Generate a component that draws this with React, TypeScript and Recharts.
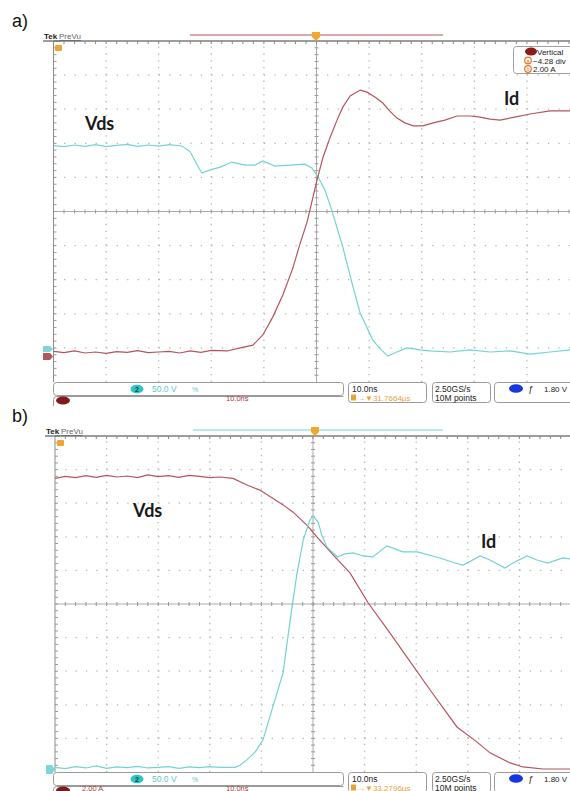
import React from 'react';
import { LineChart, Line, XAxis, YAxis, ReferenceLine } from 'recharts';

// ---- Panel a) : turn-on, Vds (cyan) and Id (red), values in graticule divisions ----
const aVdsT = [0,0.2,0.4,0.6,0.8,1.0,1.2,1.4,1.6,1.8,2.0,2.2,2.44,2.6,2.72,2.82,2.98,3.17,3.39,3.64,3.83,3.98,4.21,4.5,4.78,4.91,5.03,5.16,5.29,5.5,5.67,5.83,6.07,6.23,6.36,6.53,6.72,6.97,7.16,7.54,7.92,8.3,8.68,9.06,9.44,9.82,10];
const aVdsV = [1.93,1.90,1.95,1.91,1.96,1.90,1.94,1.97,1.91,1.95,1.92,1.96,1.92,1.75,1.40,1.13,1.22,1.30,1.45,1.36,1.36,1.48,1.33,1.36,1.39,1.28,1.01,0.63,0.04,-1.04,-2.07,-2.98,-3.77,-4.06,-4.24,-4.12,-4.00,-4.06,-4.09,-4.12,-4.06,-4.12,-4.09,-4.18,-4.12,-4.06,-4.06];

const aIdT = [0,0.2,0.4,0.6,0.8,1.0,1.2,1.4,1.6,1.8,2.0,2.2,2.4,2.6,2.8,3.0,3.3,3.55,3.79,3.98,4.17,4.36,4.55,4.68,4.82,5.01,5.12,5.26,5.39,5.5,5.64,5.83,5.96,6.11,6.26,6.39,6.53,6.68,6.84,7.02,7.22,7.44,7.67,7.92,8.11,8.3,8.49,8.77,9.06,9.44,9.82,10];
const aIdV = [-4.10,-4.14,-4.09,-4.15,-4.12,-4.16,-4.11,-4.13,-4.08,-4.14,-4.12,-4.10,-4.15,-4.09,-4.13,-4.07,-4.09,-4.00,-3.92,-3.62,-3.09,-2.45,-1.66,-0.98,-0.31,0.92,1.57,2.18,2.68,3.06,3.39,3.56,3.50,3.36,3.18,2.95,2.74,2.60,2.51,2.51,2.60,2.68,2.80,2.80,2.77,2.71,2.68,2.77,2.86,2.95,2.95,2.95];

// ---- Panel b) : turn-off, Vds (red) and Id (cyan) ----
const bVdsT = [0,0.2,0.4,0.6,0.8,1.0,1.2,1.4,1.6,1.8,2.0,2.2,2.4,2.6,2.8,3.0,3.2,3.45,3.72,3.97,4.22,4.42,4.61,4.88,5.08,5.39,5.72,6.07,6.49,6.82,7.27,7.79,8.18,8.43,8.82,9.07,9.46,9.92,10];
const bVdsV = [3.74,3.80,3.76,3.82,3.77,3.83,3.78,3.81,3.76,3.84,3.79,3.82,3.77,3.83,3.80,3.76,3.78,3.74,3.54,3.39,3.15,2.95,2.74,2.35,1.99,1.46,0.92,0.03,-0.86,-1.58,-2.56,-3.66,-4.11,-4.43,-4.73,-4.85,-4.91,-4.91,-4.91];

const bIdT = [0,0.2,0.4,0.6,0.8,1.0,1.2,1.4,1.6,1.8,2.0,2.2,2.4,2.6,2.8,3.0,3.2,3.49,3.59,3.72,3.88,4.03,4.22,4.42,4.55,4.69,4.81,4.94,5.0,5.1,5.17,5.27,5.47,5.62,5.78,5.97,6.16,6.43,6.59,6.74,7.02,7.46,7.75,7.91,8.24,8.43,8.72,8.91,9.15,9.34,9.55,9.84,10];
const bIdV = [-4.86,-4.90,-4.84,-4.88,-4.82,-4.89,-4.85,-4.87,-4.83,-4.88,-4.86,-4.84,-4.89,-4.85,-4.87,-4.84,-4.86,-4.86,-4.79,-4.64,-4.40,-4.05,-3.07,-2.05,-0.57,0.92,1.90,2.50,2.62,2.44,2.05,1.70,1.40,1.49,1.52,1.43,1.40,1.73,1.64,1.55,1.55,1.37,1.22,1.16,1.43,1.31,1.07,1.25,1.43,1.31,1.22,1.37,1.34];

// graticule
const majorX = [1,2,3,4,6,7,8,9];
const majorY = [-4,-3,-2,-1,1,2,3,4];
const minorX = Array.from({ length: 49 }, (_, i) => Math.round((i + 1) * 2) / 10);
const minorY = Array.from({ length: 49 }, (_, i) => Math.round((i + 1) * 2 - 50) / 10);

const CYAN = '#74d3d1';
const RED = '#b3565c';
const FONT = "'Liberation Sans', Arial, sans-serif";

const zip = (t: number[], v: number[]) => t.map((x, i) => ({ t: x, v: v[i] }));

type Series = { key: string; data: { t: number; v: number }[]; color: string };

function Scope({ series, margin, divX, divY }: { series: Series[]; margin: any; divX: number; divY: number }) {
  const hDash = `1.3 ${(divX * 0.2 - 1.3).toFixed(2)}`;
  const vDash = `1.3 ${(divY * 0.2 - 1.3).toFixed(2)}`;
  const tx = 2 / divX; // 2px in x-divisions
  const ty = 2 / divY;
  return (
    <LineChart width={600} height={400} margin={margin}>
      <XAxis type="number" dataKey="t" domain={[0, 10]} hide allowDataOverflow />
      <YAxis type="number" dataKey="v" domain={[-5, 5]} hide allowDataOverflow />
      {majorY.map((y) => (
        <ReferenceLine key={'gy' + y} y={y} stroke="#b5b5b5" strokeWidth={1.3} strokeDasharray={hDash} />
      ))}
      {majorX.map((x) => (
        <ReferenceLine key={'gx' + x} x={x} stroke="#b5b5b5" strokeWidth={1.3} strokeDasharray={vDash} />
      ))}
      <ReferenceLine y={0} stroke="#ababab" />
      <ReferenceLine x={5} stroke="#ababab" />
      <ReferenceLine x={0} stroke="#8c8c8c" />
      <ReferenceLine y={5} stroke="#7c7c7c" strokeWidth={1.5} />
      {minorX.map((m) => (
        <ReferenceLine key={'cx' + m} segment={[{ x: m, y: -ty }, { x: m, y: ty }]} stroke="#999" />
      ))}
      {minorY.map((m) => (
        <ReferenceLine key={'cy' + m} segment={[{ x: 5 - tx, y: m }, { x: 5 + tx, y: m }]} stroke="#999" />
      ))}
      {minorY.map((m) => (
        <ReferenceLine key={'ly' + m} segment={[{ x: 0, y: m }, { x: tx * 1.5, y: m }]} stroke="#999" />
      ))}
      {minorX.map((m) => (
        <ReferenceLine key={'tx' + m} segment={[{ x: m, y: 5 }, { x: m, y: 5 - ty * 1.5 }]} stroke="#888" />
      ))}
      {series.map((s) => (
        <Line
          key={s.key}
          data={s.data}
          dataKey="v"
          type="linear"
          stroke={s.color}
          strokeWidth={1.2}
          dot={false}
          activeDot={false}
          isAnimationActive={false}
        />
      ))}
    </LineChart>
  );
}

function BottomBar({ y, ch1Text, delay }: { y: number; ch1Text?: string; delay: string }) {
  return (
    <g fontFamily={FONT}>
      <rect x={53.5} y={y + 0.5} width={290} height={13} rx={3} fill="#fff" stroke="#9a9a9a" />
      <ellipse cx={137} cy={y + 7} rx={6.5} ry={4.3} fill="#2fc4c4" />
      <text x={137} y={y + 9.8} fontSize={7} fontWeight="bold" fill="#064848" textAnchor="middle">2</text>
      <text x={152} y={y + 10} fontSize={8.5} fill="#5cc9c9">50.0 V</text>
      <text x={192} y={y + 10} fontSize={7} fill="#5cc9c9">%</text>
      <path d={`M53.5,${y + 24} V${y + 17.5} q0,-3 3,-3 H343.5`} fill="none" stroke="#9a9a9a" />
      <ellipse cx={63} cy={y + 18.5} rx={7} ry={4} fill="#7e1a1a" />
      {ch1Text ? <text x={82} y={y + 18.5} fontSize={7.5} fill="#b13a3a">{ch1Text}</text> : null}
      <text x={226} y={y + 18.5} fontSize={7.5} fill="#a83a3a">10.0ns</text>

      <rect x={348.5} y={y + 0.5} width={78} height={20} rx={3} fill="#fff" stroke="#9a9a9a" />
      <text x={352} y={y + 9.5} fontSize={8.5} fill="#222">10.0ns</text>
      <rect x={351} y={y + 12.5} width={5} height={6} fill="#e9a23b" />
      <text x={357} y={y + 18.5} fontSize={8} fill="#e9a23b">{'→▼' + delay}</text>

      <rect x={432.5} y={y + 0.5} width={58} height={20} rx={3} fill="#fff" stroke="#9a9a9a" />
      <text x={435} y={y + 9.5} fontSize={8.5} fill="#222">2.50GS/s</text>
      <text x={435} y={y + 18.5} fontSize={8.5} fill="#222">10M points</text>

      <rect x={494.5} y={y + 0.5} width={90} height={20} rx={3} fill="#fff" stroke="#9a9a9a" />
      <ellipse cx={516} cy={y + 6.5} rx={7} ry={4.3} fill="#1537e0" />
      <text x={528} y={y + 9.5} fontSize={9} fontStyle="italic" fill="#222">ƒ</text>
      <text x={544} y={y + 9.5} fontSize={8} fill="#222">1.80 V</text>
    </g>
  );
}

function TopChrome({ y, barColor, barX1, barX2, trigX, tekX }: { y: number; barColor: string; barX1: number; barX2: number; trigX: number; tekX: number }) {
  return (
    <g fontFamily={FONT}>
      <text x={tekX} y={y - 2} fontSize={8} fontWeight="bold" fill="#222">Tek</text>
      <text x={tekX + 15} y={y - 2} fontSize={8} fill="#666" textDecoration="underline">PreVu</text>
      <line x1={tekX - 1} x2={60} y1={y} y2={y} stroke="#7c7c7c" strokeWidth={1.5} />
      <line x1={barX1} x2={barX2} y1={y - 6} y2={y - 6} stroke={barColor} strokeWidth={1.2} />
      <path d={`M${trigX - 4},${y - 9} h8 v5 l-4,4 l-4,-4 z`} fill="#f0a830" />
    </g>
  );
}

const panelA: Series[] = [
  { key: 'aVds', data: zip(aVdsT, aVdsV), color: CYAN },
  { key: 'aId', data: zip(aIdT, aIdV), color: RED },
];
const panelB: Series[] = [
  { key: 'bVds', data: zip(bVdsT, bVdsV), color: RED },
  { key: 'bId', data: zip(bIdT, bIdV), color: CYAN },
];

const labelStyle = { fontFamily: "Lato, 'Open Sans', sans-serif", fontWeight: 700, fontSize: 18, fill: '#1a1a1a' } as const;

export default function App() {
  return (
    <div style={{ position: 'absolute', left: 0, top: 0, width: 570, height: 791, overflow: 'hidden', background: '#fff' }}>
      <div style={{ position: 'absolute', left: 0, top: 0 }}>
        <Scope series={panelA} margin={{ top: 41, left: 53.5, right: 20.5, bottom: 18 }} divX={52.6} divY={34.1} />
      </div>
      <div style={{ position: 'absolute', left: 0, top: 400 }}>
        <Scope series={panelB} margin={{ top: 36, left: 55, right: 29, bottom: 28 }} divX={51.6} divY={33.6} />
      </div>
      <svg width={570} height={791} style={{ position: 'absolute', left: 0, top: 0, pointerEvents: 'none' }}>
        {/* panel a */}
        <text x={12} y={27} fontSize={18} fontFamily={FONT} fill="#111">a)</text>
        <TopChrome y={41} barColor={RED} barX1={190} barX2={443} trigX={316} tekX={44} />
        <rect x={55} y={45} width={7} height={6} rx={1} fill="#f2a431" />
        <path d="M43,346 h7 l3,3 l-3,3 h-7 z" fill="#7fd6d6" />
        <path d="M43,353 h7 l3,3.5 l-3,3.5 h-7 z" fill="#b3565c" />
        <text x={85} y={130} style={labelStyle}>Vds</text>
        <text x={504} y={105} style={labelStyle}>Id</text>
        <g fontFamily={FONT}>
          <rect x={513.5} y={46.5} width={62} height={27} rx={3} fill="#fff" stroke="#a0a0a0" />
          <ellipse cx={531} cy={51.5} rx={6} ry={4} fill="#8b1c1c" />
          <text x={537} y={55} fontSize={8} fill="#222">Vertical</text>
          <circle cx={528} cy={60.5} r={3.3} fill="#fff" stroke="#e8742c" strokeWidth={1.2} />
          <text x={528} y={62.8} fontSize={5.5} fill="#e8742c" textAnchor="middle">a</text>
          <text x={533} y={63.5} fontSize={8} fill="#222">−4.28 div</text>
          <circle cx={528} cy={69} r={3.3} fill="#fff" stroke="#e8742c" strokeWidth={1.2} />
          <text x={528} y={71.3} fontSize={5.5} fill="#e8742c" textAnchor="middle">b</text>
          <text x={533} y={72} fontSize={8} fill="#222">2.00 A</text>
        </g>
        <BottomBar y={382} delay="31.7664µs" />

        {/* panel b */}
        <text x={12} y={422} fontSize={18} fontFamily={FONT} fill="#111">b)</text>
        <TopChrome y={436} barColor={CYAN} barX1={193} barX2={443} trigX={315} tekX={46} />
        <rect x={57} y={440} width={7} height={6} rx={1} fill="#f2a431" />
        <path d="M46,765 h6 l3,4.5 l-3,4.5 h-6 z" fill="#7fd6d6" />
        <text x={133} y={517} style={labelStyle}>Vds</text>
        <text x={481} y={548} style={labelStyle}>Id</text>
        <BottomBar y={772} ch1Text="2.00 A" delay="33.2796µs" />
      </svg>
    </div>
  );
}
